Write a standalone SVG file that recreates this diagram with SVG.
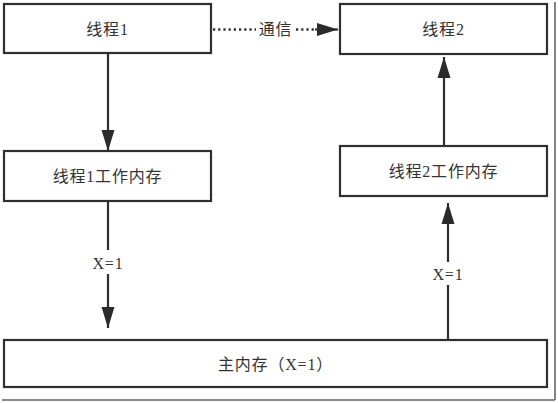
<svg xmlns="http://www.w3.org/2000/svg" width="558" height="403" viewBox="0 0 558 403">
  <defs>
    <marker id="ah" markerUnits="userSpaceOnUse" markerWidth="22" markerHeight="14" refX="21" refY="7" orient="auto">
      <path d="M0,0.5 L21,7 L0,13.5 z" fill="#2b2b2b"/>
    </marker>
  </defs>
  <style>
    .box { fill: #ffffff; stroke: #2f2f2f; stroke-width: 2.2; }
    .lbl { font-family: "Liberation Serif", "Noto Sans CJK SC", serif; font-size: 16px; fill: #333333; text-anchor: middle; dominant-baseline: central; letter-spacing: 0.8px; }
    .edge { stroke: #2f2f2f; stroke-width: 2.2; fill: none; }
    .dot { stroke: #2f2f2f; stroke-width: 2.5; fill: none; stroke-dasharray: 2.2 3; }
    .frame { stroke: #666666; stroke-width: 1.6; fill: none; }
  </style>
  <rect width="558" height="403" fill="#ffffff"/>
  <g id="frame">
    <line class="frame" x1="555" y1="2" x2="555" y2="400"/>
    <line class="frame" x1="2" y1="400" x2="555" y2="400"/>
  </g>
  <g id="thread1">
    <rect class="box" x="4" y="4" width="207" height="49"/>
    <text class="lbl" x="107.5" y="29">线程1</text>
  </g>
  <g id="thread2">
    <rect class="box" x="340" y="4" width="207" height="50"/>
    <text class="lbl" x="443.5" y="29">线程2</text>
  </g>
  <g id="thread1-wm">
    <rect class="box" x="4" y="151" width="207" height="50"/>
    <text class="lbl" x="107.5" y="176">线程1工作内存</text>
  </g>
  <g id="thread2-wm">
    <rect class="box" x="340" y="146" width="207" height="50"/>
    <text class="lbl" x="443.5" y="171">线程2工作内存</text>
  </g>
  <g id="main-memory">
    <rect class="box" x="4" y="340" width="543" height="47"/>
    <text class="lbl" x="275.5" y="364">主内存（X=1）</text>
  </g>
  <g id="connectors">
    <line class="edge" x1="108" y1="53" x2="108" y2="151" marker-end="url(#ah)"/>
    <line class="dot" x1="213" y1="29.5" x2="256" y2="29.5"/>
    <line class="dot" x1="296" y1="29.5" x2="316" y2="29.5"/>
    <line class="edge" x1="315" y1="29.5" x2="338" y2="29.5" stroke-width="0.1" marker-end="url(#ah)"/>
    <text class="lbl" x="275.5" y="29.5">通信</text>
    <line class="edge" x1="108" y1="201" x2="108" y2="250"/>
    <text class="lbl" x="108" y="263">X=1</text>
    <line class="edge" x1="108" y1="274" x2="108" y2="328" marker-end="url(#ah)"/>
    <line class="edge" x1="448" y1="340" x2="448" y2="285"/>
    <text class="lbl" x="448" y="274">X=1</text>
    <line class="edge" x1="448" y1="262" x2="448" y2="203" marker-end="url(#ah)"/>
    <line class="edge" x1="444" y1="146" x2="444" y2="57" marker-end="url(#ah)"/>
  </g>
</svg>
